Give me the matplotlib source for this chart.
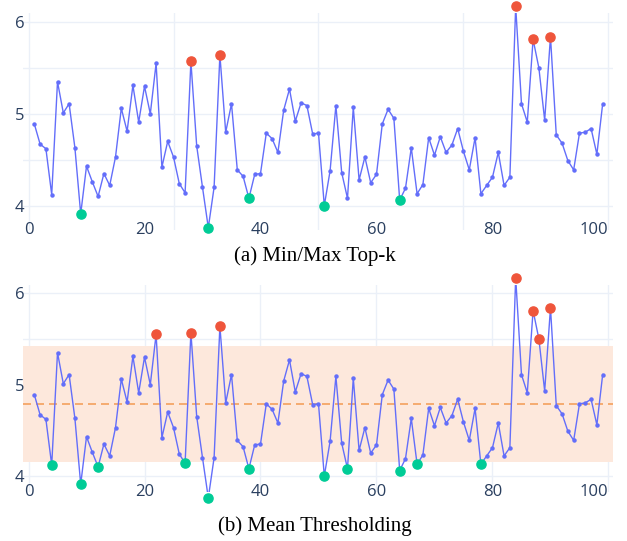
import matplotlib
matplotlib.use("Agg")
import matplotlib.pyplot as plt
import numpy as np

# ---- data ----
values = [4.89, 4.67, 4.62, 4.12, 5.35, 5.01, 5.11, 4.63, 3.91, 4.43,
          4.26, 4.10, 4.35, 4.22, 4.53, 5.06, 4.81, 5.31, 4.91, 5.30,
          5.00, 5.55, 4.42, 4.70, 4.53, 4.24, 4.14, 5.57, 4.65, 4.20,
          3.76, 4.20, 5.64, 4.80, 5.11, 4.39, 4.32, 4.08, 4.34, 4.35,
          4.79, 4.73, 4.58, 5.04, 5.27, 4.92, 5.12, 5.09, 4.78, 4.79,
          4.00, 4.38, 5.09, 4.36, 4.08, 5.07, 4.28, 4.53, 4.25, 4.34,
          4.89, 5.05, 4.95, 4.06, 4.19, 4.63, 4.13, 4.23, 4.74, 4.55,
          4.75, 4.58, 4.66, 4.84, 4.59, 4.39, 4.74, 4.13, 4.22, 4.31,
          4.58, 4.22, 4.31, 6.17, 5.11, 4.91, 5.81, 5.50, 4.93, 5.84,
          4.77, 4.68, 4.49, 4.39, 4.79, 4.80, 4.84, 4.56, 5.11]
steps = list(range(1, len(values) + 1))

topk_max_steps = [28, 33, 84, 87, 90]
topk_min_steps = [9, 31, 38, 51, 64]

mean_value = 4.79
band_lower = 4.15
band_upper = 5.42
thr_max_steps = [22, 28, 33, 84, 87, 88, 90]
thr_min_steps = [4, 9, 12, 27, 31, 38, 51, 55, 64, 67, 78]

x_ticks = [0, 20, 40, 60, 80, 100]
y_ticks = [4, 5, 6]
y_grid = [4, 4.5, 5, 5.5, 6]
a_x_grid = [0, 25, 50, 75, 100]

captions = ["(a) Min/Max Top-k", "(b) Mean Thresholding"]

# ---- style ----
LINE = "#636efa"
RED = "#ef553b"
GREEN = "#00cc96"
GRID = "#ebf0f8"
TICK = "#2a3f5f"
BAND = "#fde8dc"
DASH = "#f4a15d"

W, H = 627, 541
fig = plt.figure(figsize=(W / 100, H / 100), dpi=100)

def px_axes(left, top, right, bottom):
    return fig.add_axes([left / W, 1 - bottom / H, (right - left) / W, (bottom - top) / H])

ax_a = px_axes(23, 13, 613, 230)
ax_b = px_axes(23, 285, 613, 492)

val_map = dict(zip(steps, values))

def style(ax, ylim, xgrid):
    ax.set_xlim(-0.95, 100.78)
    ax.set_ylim(*ylim)
    for s in ax.spines.values():
        s.set_visible(False)
    for g in y_grid:
        ax.axhline(g, color=GRID, lw=1.0, zorder=0.5)
    for g in xgrid:
        ax.axvline(g, color=GRID, lw=1.0, zorder=0.5)
    ax.set_xticks(x_ticks)
    ax.set_yticks(y_ticks)
    ax.set_xticklabels([str(t) for t in x_ticks])
    ax.set_yticklabels([str(t) for t in y_ticks])
    ax.tick_params(axis="both", length=0, labelsize=12, labelcolor=TICK)
    ax.tick_params(axis="x", pad=-6)
    ax.tick_params(axis="y", pad=-1)
    for lab in ax.get_xticklabels() + ax.get_yticklabels():
        lab.set_fontfamily("Open Sans")
    xl = ax.get_xticklabels()
    xl[-1].set_horizontalalignment("right")
    ax.set_facecolor("white")

def draw(ax, max_steps, min_steps):
    ax.plot(steps, values, color=LINE, lw=1.0, marker="o", ms=2.2, zorder=3)
    ax.plot(max_steps, [val_map[s] for s in max_steps], "o", color=RED, ms=6.6,
            mec=RED, zorder=5, clip_on=False)
    ax.plot(min_steps, [val_map[s] for s in min_steps], "o", color=GREEN, ms=6.6,
            mec=GREEN, zorder=5, clip_on=False)

style(ax_a, (3.735, 6.098), a_x_grid)
draw(ax_a, topk_max_steps, topk_min_steps)

style(ax_b, (3.825, 6.09), x_ticks)
ax_b.axhspan(band_lower, band_upper, color=BAND, lw=0, zorder=1)
ax_b.axhline(mean_value, color=DASH, lw=1.2, dashes=(4.8, 3), zorder=2)
draw(ax_b, thr_max_steps, thr_min_steps)

fig.text(314.5 / W, 1 - 256 / H, captions[0], ha="center", va="center",
         fontsize=15, family="Liberation Serif", color="black")
fig.text(314.5 / W, 1 - 526 / H, captions[1], ha="center", va="center",
         fontsize=15, family="Liberation Serif", color="black")

fig.savefig("out.png", dpi=100, facecolor="white")
